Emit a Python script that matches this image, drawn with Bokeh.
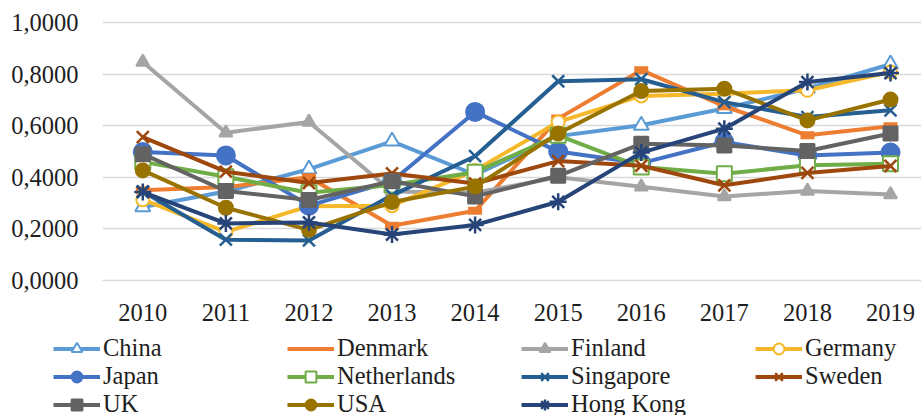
from bokeh.plotting import figure
from bokeh.layouts import column
from bokeh.models import FixedTicker, Legend, LegendItem, Range1d
from bokeh.embed import file_html
from bokeh.resources import INLINE

years = [2010, 2011, 2012, 2013, 2014, 2015, 2016, 2017, 2018, 2019]
year_labels = ["2010", "2011", "2012", "2013", "2014", "2015", "2016", "2017", "2018", "2019"]
y_ticks = [0.0, 0.2, 0.4, 0.6, 0.8, 1.0]
y_tick_labels = ["0,0000", "0,2000", "0,4000", "0,6000", "0,8000", "1,0000"]

china = [0.285, 0.345, 0.432, 0.540, 0.410, 0.560, 0.602, 0.667, 0.745, 0.839]
denmark = [0.350, 0.362, 0.400, 0.212, 0.270, 0.628, 0.816, 0.676, 0.563, 0.598]
finland = [0.848, 0.573, 0.615, 0.345, 0.340, 0.400, 0.363, 0.326, 0.347, 0.333]
germany = [0.313, 0.188, 0.288, 0.290, 0.427, 0.615, 0.716, 0.725, 0.738, 0.809]
japan = [0.498, 0.485, 0.290, 0.385, 0.654, 0.500, 0.455, 0.537, 0.485, 0.496]
netherlands = [0.460, 0.402, 0.340, 0.370, 0.420, 0.563, 0.440, 0.414, 0.447, 0.453]
singapore = [0.345, 0.158, 0.155, 0.330, 0.482, 0.773, 0.781, 0.692, 0.634, 0.660]
sweden = [0.556, 0.422, 0.378, 0.415, 0.376, 0.463, 0.445, 0.369, 0.417, 0.444]
uk = [0.490, 0.347, 0.312, 0.385, 0.326, 0.406, 0.530, 0.524, 0.502, 0.570]
usa = [0.427, 0.282, 0.196, 0.304, 0.364, 0.570, 0.735, 0.744, 0.621, 0.702]
hong_kong = [0.343, 0.221, 0.225, 0.178, 0.215, 0.305, 0.496, 0.589, 0.770, 0.805]

series = [
    # name, values, color, marker, size, fill
    ("China", china, "#5B9BD5", "triangle", 15, "white"),
    ("Denmark", denmark, "#ED7D31", "dash", 14, None),
    ("Finland", finland, "#A5A5A5", "triangle", 13, "#A5A5A5"),
    ("Germany", germany, "#F4B82A", "circle", 13, "white"),
    ("Japan", japan, "#4472C4", "circle", 18, "#4472C4"),
    ("Netherlands", netherlands, "#70AD47", "square", 15, "white"),
    ("Singapore", singapore, "#255E91", "x", 17, None),
    ("Sweden", sweden, "#9E480E", "x", 17, None),
    ("UK", uk, "#636363", "square", 14, "#636363"),
    ("USA", usa, "#997300", "circle", 14, "#997300"),
    ("Hong Kong", hong_kong, "#264478", "asterisk", 17, None),
]

FONT = "Liberation Serif"
FSIZE = "24.5px"
TXT = "#1e1e1e"


def add_series(fig, visible=True):
    out = []
    for name, vals, color, marker, size, fill in series:
        r_line = fig.line(years, vals, line_color=color, line_width=4, visible=visible)
        if marker == "dash":
            fig.scatter(years, vals, marker="dash", size=size, line_color=color,
                        line_width=8, visible=visible)
            out.append((name, [r_line]))
        else:
            r_m = fig.scatter(years, vals, marker=marker, size=size, line_color=color,
                              line_width=2.5 if fill is None else 2, fill_color=fill,
                              visible=visible)
            out.append((name, [r_line, r_m]))
    return out


# ---- main chart ----
p = figure(
    width=921, height=335,
    x_range=Range1d(2009.515, 2019.373), y_range=Range1d(-0.02, 1.040),
    output_backend="svg", toolbar_location=None,
    min_border_left=102, min_border_right=0, min_border_top=12, min_border_bottom=50,
)
p.frame_align = False
p.outline_line_color = None
p.background_fill_color = "white"
p.border_fill_color = "white"
p.xgrid.grid_line_color = None
p.ygrid.grid_line_color = "#D9D9D9"
p.ygrid.grid_line_width = 1.6

p.yaxis.ticker = FixedTicker(ticks=y_ticks)
p.yaxis.major_label_overrides = {t: l for t, l in zip(y_ticks, y_tick_labels)}
p.xaxis.ticker = FixedTicker(ticks=years)
p.xaxis.major_label_overrides = {y: l for y, l in zip(years, year_labels)}
for ax in (p.xaxis, p.yaxis):
    ax.axis_line_color = None
    ax.major_tick_line_color = None
    ax.minor_tick_line_color = None
    ax.major_tick_in = 0
    ax.major_tick_out = 0
    ax.major_label_text_font = FONT
    ax.major_label_text_font_size = FSIZE
    ax.major_label_text_color = TXT
p.yaxis.major_label_standoff = 24
p.xaxis.major_label_standoff = 18

add_series(p)

# ---- legend strip ----
p2 = figure(
    width=921, height=80,
    x_range=Range1d(2009.515, 2019.373), y_range=Range1d(5, 6),
    output_backend="svg", toolbar_location=None,
    x_axis_location=None, y_axis_location=None,
    min_border=0, min_border_left=0, min_border_right=0, min_border_top=0, min_border_bottom=0,
)
p2.frame_align = False
p2.outline_line_color = None
p2.xgrid.grid_line_color = None
p2.ygrid.grid_line_color = None
p2.background_fill_color = "white"
p2.border_fill_color = "white"

leg_src = add_series(p2, visible=False)
items = [LegendItem(label=name, renderers=rs) for name, rs in leg_src]

legend = Legend(items=items, ncols=4, orientation="horizontal", location=(53, -3))
legend.label_text_font = FONT
legend.label_text_font_size = FSIZE
legend.label_text_color = TXT
legend.glyph_width = 47
legend.glyph_height = 27
legend.label_height = 27
legend.label_width = 184
legend.label_standoff = 3
legend.spacing = 0
legend.padding = 0
legend.margin = 0
legend.border_line_color = None
legend.background_fill_alpha = 0
legend.inactive_fill_alpha = 0
p2.add_layout(legend, "center")

layout = column(p, p2, spacing=0)
open("out.html", "w").write(file_html(layout, INLINE))
